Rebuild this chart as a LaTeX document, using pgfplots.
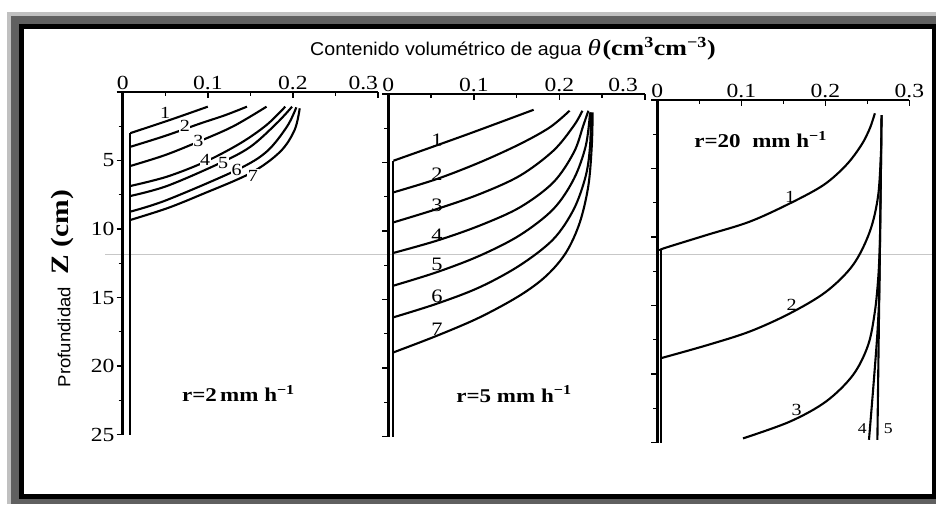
\documentclass[border=0pt]{standalone}
\usepackage{fontspec}
\setmainfont{Liberation Serif}[FakeStretch=1.18]
\newfontfamily\titlesans{Liberation Sans}[FakeStretch=1.06]
\usepackage{pgfplots}
\pgfplotsset{compat=1.18}

\definecolor{frameLight}{HTML}{C0C0C0}
\definecolor{frameDark}{HTML}{606060}

\tikzset{
  prof/.style={black, line width=2.1pt, mark=none},
  curve/.style={prof, smooth, tension=0.55},
  smalllab/.style={font=\fontsize{15}{18}\selectfont, inner sep=0.6pt},
  numlab/.style={font=\fontsize{17}{20}\selectfont, inner sep=0.6pt},
  biglab/.style={font=\fontsize{19}{22}\selectfont, inner sep=0.6pt},
  ratelab/.style={font=\fontsize{19.5}{22}\selectfont\bfseries},
}
\pgfplotsset{
  panel/.style={
    scale only axis, height=342.5pt,
    xmin=0, xmax=0.3, ymin=0, ymax=25, y dir=reverse,
    axis x line*=top, axis y line*=left,
    axis line style={line width=2.6pt},
    every outer x axis line/.append style={line width=2.6pt},
    every outer y axis line/.append style={line width=2.6pt},
    xtick={0,0.1,0.2,0.3}, minor xtick={0.05,0.15,0.25},
    ytick={0,5,...,25}, minor ytick={2.5,7.5,...,22.5},
    xtick align=inside, ytick align=outside,
    major tick length=6pt, minor tick length=4pt,
    every tick/.style={black, line width=1.4pt},
    /pgf/number format/assume math mode=true,
    tick label style={font=\fontsize{20}{24}\selectfont},
    xticklabel style={inner sep=1pt, yshift=1pt},
    yticklabel style={inner sep=2pt},
    clip=false,
  },
}

\begin{document}
\begin{tikzpicture}
% frame with shadow bands
\begin{scope}[x=1pt, y=-1pt]
  \fill[white] (0,0) rectangle (936,504);
  \fill[frameLight] (7,12) rectangle (936,504);
  \fill[frameDark] (11,16) rectangle (936,504);
  \fill[black] (19,24) rectangle (936,499);
  \fill[white] (24,29) rectangle (932,494);
  \draw[black!22, line width=0.8pt] (105,254.5) -- (932,254.5);
  \path[use as bounding box] (0,0) rectangle (936,504);
  % common titles
  \node[anchor=base west, inner sep=0pt] at (310,55)
    {{\titlesans\fontsize{18.5}{20}\selectfont Contenido volumétrico de agua}\ \ %
     {\fontsize{23}{26}\selectfont\itshape θ}\,%
     {\fontsize{22}{26}\selectfont\bfseries (cm\textsuperscript{3}cm\textsuperscript{−3})}};
  \node[rotate=90, inner sep=0pt] at (62,232)
    {\fontsize{25}{28}\selectfont\bfseries Z (cm)};
  \node[rotate=90, inner sep=0pt] at (64,337)
    {\titlesans\fontsize{17.5}{20}\selectfont Profundidad};
\end{scope}

% ---------- r = 2 mm/h ----------
\begin{axis}[panel, width=255.3pt, at={(122.7pt,-92pt)}, anchor=north west,
    xticklabels={0,0.1,0.2,\makebox[0pt][r]{0.3}},
    yticklabels={{},5,10,15,20,25}]
  \addplot[prof] coordinates {(0.009,3.0) (0.009,25)};
  \addplot[curve] coordinates {(0.009,3.0) (0.055,2.05) (0.10,1.07)};
  \addplot[curve] coordinates {(0.009,4.0) (0.05,3.2) (0.091,2.3) (0.12,1.7) (0.146,1.07)};
  \addplot[curve] coordinates {(0.009,5.4) (0.05,4.6) (0.09,3.6) (0.13,2.5) (0.169,1.07)};
  \addplot[curve] coordinates {(0.009,6.86) (0.052,6.18) (0.097,5.09) (0.138,3.75) (0.169,2.41) (0.191,1.07)};
  \addplot[curve] coordinates {(0.009,7.59) (0.052,6.86) (0.114,5.2) (0.15,4.0) (0.181,2.28) (0.199,1.07)};
  \addplot[curve] coordinates {(0.009,8.73) (0.052,7.88) (0.134,5.69) (0.169,4.36) (0.193,2.53) (0.204,1.12)};
  \addplot[curve] coordinates {(0.009,9.34) (0.052,8.49) (0.091,7.52) (0.15,5.93) (0.185,4.36) (0.202,2.77) (0.208,1.19)};
  \node[numlab] at (axis cs:0.050,1.5) {1};
  \node[numlab, fill=white] at (axis cs:0.073,2.5) {2};
  \node[numlab, fill=white] at (axis cs:0.089,3.55) {3};
  \node[numlab, fill=white] at (axis cs:0.097,4.95) {4};
  \node[numlab, fill=white] at (axis cs:0.118,5.2) {5};
  \node[numlab, fill=white] at (axis cs:0.134,5.7) {6};
  \node[numlab, fill=white] at (axis cs:0.153,6.1) {7};
  \node[ratelab] at (axis cs:0.136,22) {r=2\,mm h\textsuperscript{−1}};
\end{axis}

% ---------- r = 5 mm/h ----------
\begin{axis}[panel, width=256.5pt, at={(388.3pt,-94pt)}, anchor=north west,
    xticklabels={0,0.1,0.2,\makebox[0pt][r]{0.3\hspace{7pt}}},
    yticklabels={}]
  \addplot[prof] coordinates {(0.006,4.87) (0.006,25)};
  \addplot[curve] coordinates {(0.006,4.87) (0.09,3.0) (0.17,1.15)};
  \addplot[curve] coordinates {(0.006,7.18) (0.057,6.2) (0.107,4.99) (0.154,3.65) (0.189,2.43) (0.212,1.22)};
  \addplot[curve] coordinates {(0.006,9.37) (0.057,8.39) (0.107,7.3) (0.154,5.96) (0.193,4.14) (0.217,2.31) (0.227,1.22)};
  \addplot[curve] coordinates {(0.006,11.6) (0.057,10.7) (0.107,9.6) (0.154,8.27) (0.193,6.45) (0.217,4.26) (0.228,2.31) (0.234,1.22)};
  \addplot[curve] coordinates {(0.006,13.99) (0.057,13.0) (0.107,11.8) (0.154,10.3) (0.193,8.4) (0.217,6.2) (0.231,3.77) (0.236,1.34)};
  \addplot[curve] coordinates {(0.006,16.3) (0.057,15.3) (0.107,14.1) (0.154,12.5) (0.193,10.6) (0.217,8.4) (0.231,5.96) (0.236,3.77) (0.237,1.34)};
  \addplot[curve] coordinates {(0.006,18.86) (0.057,17.64) (0.107,16.3) (0.154,14.7) (0.185,13.26) (0.208,11.56) (0.224,9.37) (0.234,6.69) (0.238,3.77) (0.239,1.34)};
  \node[biglab] at (axis cs:0.057,3.4) {1};
  \node[biglab] at (axis cs:0.057,5.84) {2};
  \node[biglab] at (axis cs:0.057,8.1) {3};
  \node[biglab] at (axis cs:0.057,10.3) {4};
  \node[biglab] at (axis cs:0.057,12.4) {5};
  \node[biglab] at (axis cs:0.057,14.8) {6};
  \node[biglab] at (axis cs:0.057,17.15) {7};
  \node[ratelab] at (axis cs:0.147,21.9) {r=5 mm h\textsuperscript{−1}};
\end{axis}

% ---------- r = 20 mm/h ----------
\begin{axis}[panel, width=252pt, at={(657.3pt,-100pt)}, anchor=north west,
    xticklabels={0,0.1,0.2,0.3},
    yticklabels={}]
  \addplot[prof] coordinates {(0.004,10.95) (0.004,25)};
  \addplot[curve] coordinates {(0.004,10.95) (0.009,10.8) (0.059,9.85) (0.110,8.88) (0.158,7.54) (0.198,6.2) (0.225,4.74) (0.243,3.28) (0.253,2.07) (0.259,0.97)};
  \addplot[curve] coordinates {(0.004,18.85) (0.059,17.9) (0.110,16.9) (0.158,15.57) (0.201,13.99) (0.233,12.04) (0.253,9.6) (0.263,6.93) (0.2665,3.5)};
  \addplot[curve] coordinates {(0.102,24.7) (0.158,23.47) (0.201,22.0) (0.233,20.07) (0.251,17.88) (0.259,15.45) (0.263,13.0) (0.265,10.6)};
  \addplot[curve] coordinates {(0.267,1.1) (0.2645,13) (0.2625,16.5) (0.258,20.3) (0.252,24.8)};
  \addplot[prof] coordinates {(0.267,1.1) (0.262,24.8)};
  \node[numlab] at (axis cs:0.158,7.05) {1};
  \node[numlab] at (axis cs:0.160,14.97) {2};
  \node[numlab] at (axis cs:0.166,22.6) {3};
  \node[smalllab] at (axis cs:0.244,24.0) {4};
  \node[smalllab] at (axis cs:0.275,24.0) {5};
  \node[ratelab] at (axis cs:0.123,2.9) {r=20\ \ mm h\textsuperscript{−1}};
\end{axis}
\end{tikzpicture}
\end{document}
